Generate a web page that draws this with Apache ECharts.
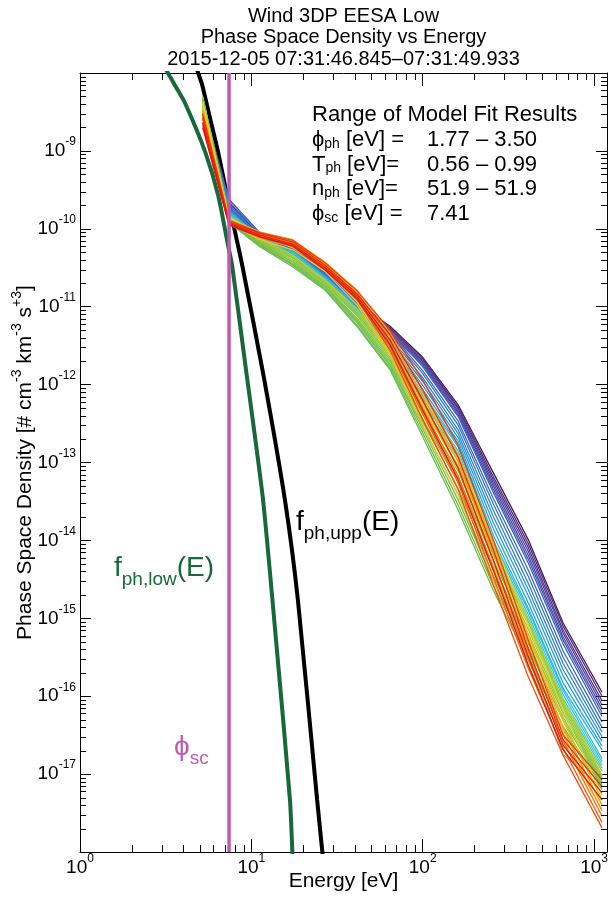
<!DOCTYPE html>
<html><head><meta charset="utf-8">
<script src="https://cdn.jsdelivr.net/npm/echarts@6/dist/echarts.min.js"></script>
<style>html,body{margin:0;padding:0;background:#fff}#chart{width:614px;height:897px}</style>
</head><body><div id="chart"></div>
<script>
// ---------------- data ----------------
const energyEV = [5.2, 7.4, 11.2, 17.5, 27, 41.5, 64.5, 100, 161, 258, 413, 660, 1113];

// log10 of phase space density for each sweep, at the energies above
const sweepLogPSD = [
  [-8.45, -9.66, -10.10, -10.30, -10.60, -10.95, -11.25, -11.65, -12.26, -13.13, -13.99, -15.06, -15.95],
  [-8.42, -9.68, -10.07, -10.27, -10.57, -10.93, -11.27, -11.67, -12.29, -13.18, -14.04, -15.10, -16.00],
  [-8.50, -9.70, -10.12, -10.32, -10.62, -10.98, -11.29, -11.69, -12.31, -13.22, -14.09, -15.15, -16.06],
  [-8.44, -9.72, -10.09, -10.29, -10.60, -10.96, -11.31, -11.71, -12.34, -13.26, -14.14, -15.19, -16.11],
  [-8.48, -9.74, -10.13, -10.33, -10.63, -11.00, -11.33, -11.73, -12.36, -13.30, -14.19, -15.24, -16.16],
  [-8.53, -9.76, -10.14, -10.35, -10.65, -11.02, -11.35, -11.75, -12.39, -13.34, -14.24, -15.28, -16.21],
  [-8.40, -9.62, -10.05, -10.24, -10.54, -10.92, -11.31, -11.77, -12.41, -13.38, -14.29, -15.33, -16.26],
  [-8.46, -9.65, -10.07, -10.26, -10.56, -10.95, -11.34, -11.82, -12.47, -13.46, -14.38, -15.42, -16.33],
  [-8.52, -9.68, -10.10, -10.28, -10.58, -10.97, -11.36, -11.86, -12.52, -13.53, -14.46, -15.50, -16.40],
  [-8.42, -9.71, -10.09, -10.29, -10.60, -10.99, -11.39, -11.91, -12.58, -13.61, -14.55, -15.58, -16.46],
  [-8.55, -9.74, -10.13, -10.31, -10.62, -11.02, -11.42, -11.96, -12.63, -13.69, -14.63, -15.66, -16.52],
  [-8.47, -9.77, -10.12, -10.32, -10.63, -11.04, -11.44, -12.01, -12.68, -13.77, -14.71, -15.74, -16.58],
  [-8.50, -9.80, -10.15, -10.33, -10.65, -11.06, -11.46, -12.06, -12.73, -13.85, -14.80, -15.83, -16.64],
  [-8.56, -9.83, -10.17, -10.34, -10.66, -11.08, -11.49, -12.11, -12.77, -13.93, -14.87, -15.90, -16.69],
  [-8.38, -9.78, -10.10, -10.29, -10.62, -10.99, -11.44, -12.14, -12.80, -14.00, -14.90, -15.93, -16.80],
  [-8.43, -9.80, -10.12, -10.31, -10.64, -11.02, -11.47, -12.18, -12.85, -14.04, -14.95, -15.98, -16.84],
  [-8.47, -9.82, -10.14, -10.33, -10.66, -11.05, -11.50, -12.22, -12.89, -14.09, -15.00, -16.03, -16.88],
  [-8.36, -9.84, -10.16, -10.35, -10.68, -11.07, -11.53, -12.27, -12.93, -14.13, -15.04, -16.07, -16.92],
  [-8.44, -9.86, -10.18, -10.37, -10.70, -11.10, -11.56, -12.31, -12.97, -14.18, -15.08, -16.11, -16.96],
  [-8.31, -9.83, -10.12, -10.34, -10.66, -11.04, -11.56, -12.26, -12.97, -14.06, -15.02, -16.05, -17.01],
  [-8.34, -9.84, -10.14, -10.36, -10.68, -11.07, -11.59, -12.30, -13.04, -14.12, -15.08, -16.10, -17.03],
  [-8.30, -9.85, -10.15, -10.38, -10.70, -11.10, -11.62, -12.35, -13.11, -14.19, -15.14, -16.14, -17.05],
  [-8.36, -9.86, -10.17, -10.40, -10.71, -11.12, -11.65, -12.39, -13.18, -14.25, -15.20, -16.18, -17.08],
  [-8.32, -9.87, -10.18, -10.42, -10.73, -11.15, -11.68, -12.44, -13.26, -14.32, -15.26, -16.22, -17.10],
  [-8.38, -9.88, -10.19, -10.43, -10.74, -11.17, -11.71, -12.48, -13.33, -14.38, -15.32, -16.27, -17.12],
  [-8.33, -9.89, -10.20, -10.45, -10.75, -11.19, -11.74, -12.53, -13.41, -14.45, -15.38, -16.31, -17.14],
  [-8.40, -9.90, -10.21, -10.46, -10.77, -11.21, -11.76, -12.57, -13.48, -14.51, -15.44, -16.75, -17.18],
  [-8.35, -9.91, -10.22, -10.47, -10.78, -11.24, -11.79, -12.62, -13.55, -14.58, -15.50, -16.39, -17.16],
  [-8.41, -9.92, -10.23, -10.49, -10.79, -11.26, -11.81, -12.67, -13.61, -14.64, -15.54, -16.43, -17.20],
  [-8.36, -9.86, -10.05, -10.18, -10.46, -10.85, -11.43, -12.13, -12.90, -13.99, -15.09, -16.18, -17.27],
  [-8.40, -9.88, -10.08, -10.21, -10.49, -10.89, -11.49, -12.26, -13.07, -14.16, -15.26, -16.31, -17.33],
  [-8.44, -9.90, -10.11, -10.24, -10.52, -10.94, -11.56, -12.39, -13.25, -14.34, -15.43, -16.44, -17.40],
  [-8.47, -9.92, -10.14, -10.27, -10.55, -10.98, -11.62, -12.52, -13.42, -14.51, -15.60, -16.56, -17.46],
  [-8.45, -9.88, -10.04, -10.14, -10.43, -10.79, -11.34, -12.07, -12.90, -14.06, -15.21, -16.31, -17.33],
  [-8.50, -9.90, -10.06, -10.16, -10.45, -10.82, -11.39, -12.15, -12.99, -14.16, -15.32, -16.40, -17.40],
  [-8.54, -9.91, -10.07, -10.18, -10.47, -10.84, -11.43, -12.22, -13.08, -14.26, -15.43, -16.49, -17.47],
  [-8.58, -9.92, -10.08, -10.19, -10.49, -10.86, -11.47, -12.30, -13.17, -14.36, -15.53, -16.58, -17.54],
  [-8.63, -9.94, -10.10, -10.21, -10.51, -10.89, -11.52, -12.37, -13.26, -14.47, -15.64, -16.67, -17.62],
  [-8.67, -9.95, -10.11, -10.23, -10.53, -10.91, -11.56, -12.45, -13.35, -14.57, -15.75, -16.76, -17.69],
  [-8.52, -9.89, -10.05, -10.15, -10.44, -10.80, -11.30, -11.94, -12.78, -13.99, -15.28, -16.50, -17.07],
  [-8.58, -9.91, -10.06, -10.17, -10.47, -10.84, -11.36, -12.07, -12.93, -14.12, -15.39, -16.56, -17.16],
  [-8.64, -9.93, -10.08, -10.20, -10.50, -10.87, -11.43, -12.20, -13.07, -14.25, -15.49, -16.63, -17.24],
  [-8.70, -9.95, -10.10, -10.22, -10.53, -10.90, -11.49, -12.33, -13.22, -14.38, -15.60, -16.69, -17.33]
];
const sweepColors = [
  '#4b1c5c', '#532a7c', '#57358f', '#51409c', '#4a4aa6', '#4555b0',
  '#3f60b9', '#3a6bc0', '#3577c7', '#3182cd', '#2d8ed3', '#299ad9', '#26a6de', '#25b2e2',
  '#2ebde0', '#3ec3d6', '#4fc6bf', '#5ec59f', '#6bc486',
  '#b9d12d', '#a8cb33', '#9ac739', '#8fc43e', '#86c342', '#7ec24c', '#78c152', '#72c05a', '#6ebf4a', '#69be50',
  '#d8dc20', '#e5df1c', '#eed61a', '#f2c618',
  '#f4b317', '#f59f16', '#f58b15', '#f47714', '#f26313', '#ef4f12',
  '#ec3c12', '#e82b12', '#e31d14', '#dd1616'
];

// model curves f_ph,upp(E) and f_ph,low(E)
const upperModelE = [4.69, 4.89, 5.16, 5.74, 6.39, 7.21, 8.03, 8.83, 11.7, 15.7, 18.7, 24.2, 26.6];
const upperModelLogPSD = [-7.87, -8.00, -8.15, -8.58, -9.01, -9.57, -10.04, -10.46, -11.85, -13.48, -14.77, -17.33, -18.23];
const lowerModelE = [3.01, 3.26, 3.63, 4.10, 5.37, 6.40, 7.31, 7.71, 9.19, 11.7, 14.1, 16.8, 17.5];
const lowerModelLogPSD = [-7.87, -8.00, -8.18, -8.385, -9.01, -9.57, -10.21, -10.46, -11.72, -13.48, -15.41, -17.33, -18.23];

const phiScEV = 7.41;

const titleLines = ['Wind 3DP EESA Low', 'Phase Space Density vs Energy', '2015-12-05 07:31:46.845\u201307:31:49.933'];
const fitHeader = 'Range of Model Fit Results';
const fitLabels = [['\u03d5', 'ph', ' [eV] ='], ['T', 'ph', ' [eV]='], ['n', 'ph', ' [eV]='], ['\u03d5', 'sc', ' [eV] =']];
const fitValues = ['1.77 \u2013 3.50', '0.56 \u2013 0.99', '51.9 \u2013 51.9', '7.41'];

const xLabelExps = [0, 1, 2, 3];
const yLabelExps = [-17, -16, -15, -14, -13, -12, -11, -10, -9];
const xMaxEV = 1190;
const yMinExp = -18, yMaxExp = -8;

// ---------------- chart ----------------
const FONT = "'Liberation Sans', Arial, Helvetica, 'DejaVu Sans', sans-serif";
const xMaxLog = Math.log10(xMaxEV);

function decadeMinors(lo, hi) {
  const out = [];
  for (let n = Math.floor(lo); n < hi; n++) for (let k = 2; k <= 9; k++) {
    const v = n + Math.log10(k);
    if (v > lo && v < hi) out.push(v);
  }
  return out;
}
const xMinor = decadeMinors(0, xMaxLog);
const yMinor = decadeMinors(yMinExp, yMaxExp);

function expFormatter(shown) {
  return function (v) {
    const r = Math.round(v);
    if (Math.abs(v - r) > 1e-6 || shown.indexOf(r) < 0) return '';
    return '{b|10}{s|' + r + '}';
  };
}
const labelRich = {
  b: { fontSize: 19, lineHeight: 30, verticalAlign: 'middle', fontFamily: FONT, color: '#000' },
  s: { fontSize: 12, lineHeight: 16, verticalAlign: 'top', fontFamily: FONT, color: '#000' }
};

function tickSeries(values, isX, len) {
  return {
    type: 'custom', coordinateSystem: 'cartesian2d', silent: true, z: 10, clip: false,
    data: values.map(v => isX ? [v, yMinExp] : [0, v]),
    renderItem: function (params, api) {
      const st = { stroke: '#000', lineWidth: 1 };
      if (isX) {
        const v = api.value(0);
        const b = api.coord([v, yMinExp]), t = api.coord([v, yMaxExp]);
        const x = Math.round(b[0]) + 0.5;
        return { type: 'group', children: [
          { type: 'line', shape: { x1: x, y1: b[1], x2: x, y2: b[1] - len }, style: st },
          { type: 'line', shape: { x1: x, y1: t[1], x2: x, y2: t[1] + len }, style: st }
        ] };
      } else {
        const v = api.value(1);
        const l = api.coord([0, v]), r = api.coord([xMaxLog, v]);
        const y = Math.round(l[1]) + 0.5;
        return { type: 'group', children: [
          { type: 'line', shape: { x1: l[0], y1: y, x2: l[0] + len, y2: y }, style: st },
          { type: 'line', shape: { x1: r[0], y1: y, x2: r[0] - len, y2: y }, style: st }
        ] };
      }
    }
  };
}

const series = [];
series.push({
  type: 'line', name: 'f_ph,low', data: lowerModelE.map((e, i) => [Math.log10(e), lowerModelLogPSD[i]]),
  showSymbol: false, smooth: 0.2, lineStyle: { color: '#17693a', width: 4 }, silent: true, z: 2
});
series.push({
  type: 'line', name: 'f_ph,upp', data: upperModelE.map((e, i) => [Math.log10(e), upperModelLogPSD[i]]),
  showSymbol: false, smooth: 0.2, lineStyle: { color: '#000', width: 4 }, silent: true, z: 2
});
sweepLogPSD.forEach((row, k) => {
  series.push({
    type: 'line', data: row.map((v, j) => [Math.log10(energyEV[j]), v]),
    showSymbol: false, lineStyle: { color: sweepColors[k], width: 1.3 }, silent: true, z: 3
  });
});
series.push({
  type: 'line', name: 'phi_sc', data: [[Math.log10(phiScEV), yMinExp], [Math.log10(phiScEV), yMaxExp]],
  showSymbol: false, lineStyle: { color: '#c05aae', width: 3.5 }, silent: true, z: 4
});
series.push(tickSeries(xMinor, true, 7));
series.push(tickSeries(yMinor, false, 6));

function axisCommon(extra) {
  return Object.assign({
    type: 'value', splitLine: { show: false },
    axisLine: { show: true, onZero: false, lineStyle: { color: '#000', width: 1 } }
  }, extra);
}

const graphic = [];
titleLines.forEach((t, i) => graphic.push({
  type: 'text', x: 343.5, y: 16 + i * 21.5, silent: true,
  style: { text: t, font: '20px ' + FONT, fill: '#000', align: 'center', verticalAlign: 'middle', textAlign: 'center', textVerticalAlign: 'middle' }
}));
const rowRich = {
  b: { fontSize: 22, lineHeight: 26, verticalAlign: 'bottom', fontFamily: FONT, fill: '#000', color: '#000' },
  s: { fontSize: 14, lineHeight: 14, verticalAlign: 'bottom', fontFamily: FONT, fill: '#000', color: '#000' }
};
graphic.push({ type: 'text', x: 312, y: 113, silent: true,
  style: { text: '{b|' + fitHeader + '}', rich: rowRich, align: 'left', verticalAlign: 'middle', textVerticalAlign: 'middle' } });
fitLabels.forEach((lab, i) => {
  graphic.push({ type: 'text', x: 312, y: 138 + i * 24.6, silent: true,
    style: { text: '{b|' + lab[0] + '}{s|' + lab[1] + '}{b|' + lab[2] + '}', rich: rowRich, align: 'left', verticalAlign: 'middle', textVerticalAlign: 'middle' } });
  graphic.push({ type: 'text', x: 427, y: 138 + i * 24.6, silent: true,
    style: { text: '{b|' + fitValues[i] + '}', rich: rowRich, align: 'left', verticalAlign: 'middle', textVerticalAlign: 'middle' } });
});
function bigRich(col) {
  return {
    m: { fontSize: 28, lineHeight: 28, verticalAlign: 'top', fontFamily: FONT, fill: col, color: col },
    s: { fontSize: 19, lineHeight: 35, verticalAlign: 'bottom', fontFamily: FONT, fill: col, color: col }
  };
}
graphic.push({ type: 'text', x: 296, y: 508, silent: true,
  style: { text: '{m|f}{s|ph,upp}{m|(E)}', rich: bigRich('#000'), align: 'left', verticalAlign: 'top', textVerticalAlign: 'top' } });
graphic.push({ type: 'text', x: 114, y: 554, silent: true,
  style: { text: '{m|f}{s|ph,low}{m|(E)}', rich: bigRich('#17693a'), align: 'left', verticalAlign: 'top', textVerticalAlign: 'top' } });
graphic.push({ type: 'text', x: 174, y: 733, silent: true,
  style: { text: '{m|\u03d5}{s|sc}', rich: bigRich('#c05aae'), align: 'left', verticalAlign: 'top', textVerticalAlign: 'top' } });

const option = {
  animation: false,
  backgroundColor: '#fff',
  textStyle: { fontFamily: FONT },
  grid: { left: 80, right: 7, top: 73, bottom: 45, containLabel: false, outerBoundsMode: 'none' },
  xAxis: [
    axisCommon({ position: 'bottom', min: 0, max: xMaxLog, interval: 1,
      axisTick: { show: true, inside: true, length: 13, lineStyle: { color: '#000' } },
      axisLabel: { show: true, margin: 1, formatter: expFormatter(xLabelExps), rich: labelRich, showMinLabel: true, showMaxLabel: true, hideOverlap: false },
      name: 'Energy [eV]', nameLocation: 'middle', nameGap: 19, nameMoveOverlap: false,
      nameTextStyle: { fontSize: 21, color: '#000', fontFamily: FONT } }),
    axisCommon({ position: 'top', min: 0, max: xMaxLog, interval: 1,
      axisTick: { show: true, inside: true, length: 13, lineStyle: { color: '#000' } },
      axisLabel: { show: false } })
  ],
  yAxis: [
    axisCommon({ position: 'left', min: yMinExp, max: yMaxExp, interval: 1,
      axisTick: { show: true, inside: true, length: 11, lineStyle: { color: '#000' } },
      axisLabel: { show: true, margin: 4, formatter: expFormatter(yLabelExps), rich: labelRich, showMinLabel: true, showMaxLabel: true, hideOverlap: false },
      name: '{b|Phase Space Density [# cm}{s|-3}{b| km}{s|-3}{b| s}{s|+3}{b|]}', nameLocation: 'middle', nameGap: 40, nameRotate: 90, nameMoveOverlap: false,
      nameTextStyle: { rich: {
        b: { fontSize: 21, lineHeight: 30, verticalAlign: 'middle', fontFamily: FONT, color: '#000' },
        s: { fontSize: 14, lineHeight: 16, verticalAlign: 'top', fontFamily: FONT, color: '#000' } } } }),
    axisCommon({ position: 'right', min: yMinExp, max: yMaxExp, interval: 1,
      axisTick: { show: true, inside: true, length: 11, lineStyle: { color: '#000' } },
      axisLabel: { show: false } })
  ],
  series: series,
  graphic: graphic
};

const chart = echarts.init(document.getElementById('chart'), null, { renderer: 'canvas' });
chart.setOption(option);
</script></body></html>
